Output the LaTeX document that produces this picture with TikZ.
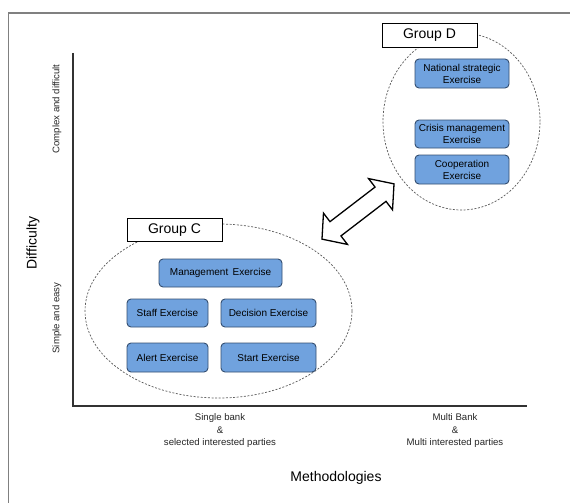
\documentclass[tikz,border=0pt]{standalone}
\usepackage{fontspec}
\setmainfont{Liberation Sans}
\usetikzlibrary{shapes.geometric}
\definecolor{boxfill}{RGB}{112,162,222}
\definecolor{boxline}{RGB}{52,78,112}
\definecolor{framegray}{RGB}{128,128,128}
\definecolor{axisgray}{RGB}{50,50,50}
\begin{document}
\begin{tikzpicture}[x=1pt,y=-1pt,
  exbox/.style={draw=boxline,fill=boxfill,rounded corners=4pt,line width=0.9pt,
    inner sep=0pt,align=center,font=\fontsize{10}{12}\selectfont},
  grplabel/.style={draw=black,fill=white,line width=0.8pt,inner sep=0pt,
    minimum width=95pt,minimum height=23.5pt,font=\fontsize{14}{16}\selectfont},
  grpell/.style={ellipse,draw=black!65,dashed,dash pattern=on 2pt off 1.6pt,
    line width=0.7pt,inner sep=0pt},
  ticklbl/.style={font=\fontsize{9.6}{12.5}\selectfont,align=center,text=black!85},
  axislbl/.style={font=\fontsize{14}{16}\selectfont}]
\useasboundingbox (0,0) rectangle (570,503);
\fill[white] (0,0) rectangle (570,503);
% outer frame (cropped at right and bottom)
\draw[framegray,line width=1.4pt] (8.7,503) -- (8.7,13) -- (570,13);
% axes
\coordinate (ytop) at (73,53);
\coordinate (orig) at (73,406);
\coordinate (xend) at (527,406);
\draw[axisgray,line width=1.1pt] (ytop) -- (orig) -- (xend);
% axis labels
\node[axislbl,rotate=90] (diff) at (33,243) {Difficulty};
\node[ticklbl,rotate=90] (cplx) at (57,109) {Complex and difficult};
\node[ticklbl,rotate=90] (simp) at (57,318) {Simple and easy};
\node[ticklbl] (single) at (220,431) {Single bank\\\&\\selected interested parties};
\node[ticklbl] (multi) at (455,431) {Multi Bank\\\&\\Multi interested parties};
\node[axislbl] (meth) at (336,478) {Methodologies};
% Group C
\node[grpell,minimum width=267pt,minimum height=174pt] (ellC) at (218.5,311) {};
\node[grplabel] (grpC) at (174.5,230) {Group C};
\node[exbox,minimum width=123pt,minimum height=28pt] (mgmt) at (220.5,273) {Management\, Exercise};
\node[exbox,minimum width=81pt,minimum height=28pt] (staff) at (167.5,313) {Staff Exercise};
\node[exbox,minimum width=95pt,minimum height=28pt] (dec) at (268.5,313) {Decision Exercise};
\node[exbox,minimum width=81pt,minimum height=29pt] (alert) at (167.5,357.5) {Alert Exercise};
\node[exbox,minimum width=95pt,minimum height=29pt] (start) at (268.5,357.5) {Start Exercise};
% Group D
\node[grpell,minimum width=157pt,minimum height=177pt] (ellD) at (461.5,121.5) {};
\node[grplabel] (grpD) at (429.5,35.5) {Group D};
\node[exbox,minimum width=94pt,minimum height=29pt] (natl) at (462,73.5) {National strategic\\Exercise};
\node[exbox,minimum width=94pt,minimum height=28pt] (crisis) at (462,134) {Crisis management\\Exercise};
\node[exbox,minimum width=94pt,minimum height=29pt] (coop) at (462,169.5) {Cooperation\\Exercise};
% double arrow between the groups
\coordinate (arrc) at (358,211.5);
\begin{scope}[shift={(arrc)},rotate=37.5]
\draw[black,line width=1.3pt,fill=white,line join=miter]
  (45.4,0) -- (28.4,19.7) -- (28.4,9) -- (-28.4,9) -- (-28.4,19.7) -- (-45.4,0)
  -- (-28.4,-19.7) -- (-28.4,-9) -- (28.4,-9) -- (28.4,-19.7) -- cycle;
\end{scope}
\end{tikzpicture}
\end{document}
